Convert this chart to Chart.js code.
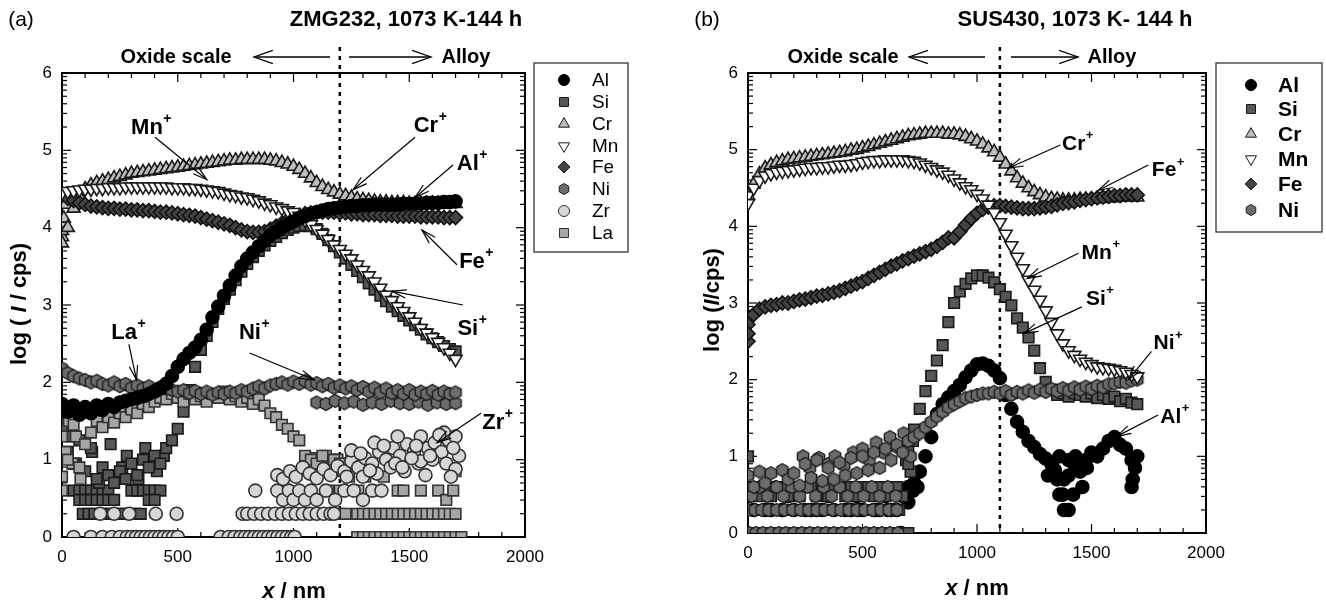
<!DOCTYPE html>
<html>
<head>
<meta charset="utf-8">
<script src="https://cdn.jsdelivr.net/npm/chart.js@4/dist/chart.umd.min.js"></script>
<style>
html, body { margin: 0; padding: 0; background: #fff; }
#wrap { position: relative; width: 1326px; height: 605px; overflow: hidden; }
canvas { position: absolute; top: 0; }
#cA { left: 0; }
#cB { left: 663px; }
</style>
</head>
<body>
<div id="wrap">
  <canvas id="cA" width="663" height="605"></canvas>
  <canvas id="cB" width="663" height="605"></canvas>
</div>
<script>
const FONT = '"Liberation Sans", Arial, Helvetica, sans-serif';

// axis ticks
const xTicks = [0, 500, 1000, 1500, 2000];
const yTicks = [0, 1, 2, 3, 4, 5, 6];

// sputter depth grid for the smooth profiles (nm)
const depth = [0,25,50,75,100,125,150,175,200,225,
  250,275,300,325,350,375,400,425,450,475,
  500,525,550,575,600,625,650,675,700,725,
  750,775,800,825,850,875,900,925,950,975,
  1000,1025,1050,1075,1100,1125,1150,1175,1200,1225,
  1250,1275,1300,1325,1350,1375,1400,1425,1450,1475,
  1500,1525,1550,1575,1600,1625,1650,1675,1700];

// ---------- (a) ZMG232 : log(I/cps) ----------
const alA = [1.72,1.62,1.7,1.58,1.68,1.6,1.7,1.64,1.72,1.68,
  1.74,1.76,1.78,1.8,1.82,1.85,1.88,1.92,1.98,2.08,
  2.2,2.3,2.38,2.45,2.55,2.68,2.84,2.98,3.12,3.25,
  3.38,3.5,3.6,3.68,3.76,3.83,3.9,3.95,4.0,4.04,
  4.08,4.12,4.15,4.18,4.2,4.22,4.24,4.25,4.26,4.27,
  4.28,4.28,4.29,4.29,4.3,4.3,4.3,4.3,4.3,4.31,
  4.31,4.31,4.31,4.32,4.32,4.32,4.33,4.33,4.34];
const siA = [1.4,1.1,0.95,1.25,0.85,1.15,0.75,0.9,0.8,0.7,
  0.85,0.75,0.95,0.8,1.0,0.9,1.05,0.95,1.15,1.25,
  1.4,1.62,1.9,2.2,2.42,2.6,2.78,2.95,3.08,3.2,
  3.32,3.43,3.53,3.62,3.7,3.77,3.83,3.88,3.93,3.97,
  4.0,4.02,4.03,4.02,3.98,3.92,3.84,3.76,3.68,3.6,
  3.52,3.44,3.36,3.28,3.2,3.12,3.05,2.98,2.92,2.86,
  2.8,2.74,2.68,2.62,2.57,2.52,2.47,2.43,2.4];
const crA = [3.8,4.0,4.25,4.4,4.5,4.55,4.58,4.6,4.62,4.64,
  4.66,4.68,4.7,4.71,4.72,4.73,4.74,4.75,4.76,4.77,
  4.78,4.79,4.8,4.81,4.82,4.83,4.84,4.85,4.86,4.87,
  4.87,4.88,4.88,4.88,4.88,4.88,4.87,4.86,4.84,4.82,
  4.79,4.75,4.7,4.64,4.58,4.53,4.49,4.46,4.43,4.41,
  4.39,4.37,4.36,4.35,4.34,4.33,4.33,4.32,4.32,4.32,
  4.31,4.31,4.31,4.31,4.31,4.31,4.31,4.31,4.31];
const mnA = [4.45,4.47,4.48,4.49,4.5,4.5,4.51,4.51,4.52,4.52,
  4.52,4.53,4.53,4.53,4.53,4.53,4.53,4.53,4.53,4.52,
  4.52,4.52,4.51,4.51,4.5,4.49,4.48,4.47,4.45,4.43,
  4.42,4.4,4.39,4.37,4.35,4.32,4.3,4.27,4.25,4.22,
  4.2,4.15,4.1,4.04,3.98,3.92,3.85,3.78,3.72,3.66,
  3.6,3.52,3.45,3.38,3.3,3.22,3.13,3.06,2.98,2.92,
  2.85,2.78,2.7,2.64,2.58,2.52,2.45,2.38,2.3];
const feA = [4.42,4.38,4.35,4.32,4.3,4.28,4.27,4.26,4.25,4.25,
  4.24,4.24,4.23,4.23,4.22,4.22,4.21,4.2,4.2,4.19,
  4.18,4.17,4.16,4.15,4.13,4.11,4.09,4.07,4.05,4.03,
  4.0,3.97,3.95,3.94,3.94,3.95,3.98,4.02,4.06,4.1,
  4.13,4.16,4.18,4.19,4.2,4.2,4.2,4.2,4.19,4.19,
  4.18,4.18,4.17,4.17,4.17,4.16,4.16,4.16,4.15,4.15,
  4.15,4.15,4.14,4.14,4.14,4.14,4.13,4.13,4.13];
const niA = [2.18,2.12,2.08,2.05,2.03,2.0,2.02,1.98,1.96,2.0,
  1.95,1.98,1.93,1.96,1.92,1.95,1.9,1.94,1.92,1.9,
  1.88,1.9,1.86,1.89,1.85,1.88,1.84,1.87,1.85,1.88,
  1.86,1.9,1.88,1.92,1.95,1.92,1.96,1.98,2.0,1.97,
  2.01,1.98,2.02,1.97,1.99,1.95,1.98,1.93,1.96,1.92,
  1.95,1.9,1.94,1.88,1.93,1.87,1.92,1.86,1.9,1.85,
  1.9,1.84,1.88,1.85,1.89,1.84,1.88,1.85,1.87];
const laA = [1.3,1.0,1.45,0.9,1.2,1.35,1.5,1.42,1.55,1.48,
  1.6,1.55,1.65,1.6,1.72,1.68,1.75,1.8,1.78,1.85,
  1.8,1.75,1.85,1.78,1.82,1.75,1.85,1.8,1.88,1.78,
  1.82,1.75,1.8,1.72,1.78,1.7,1.6,1.55,1.45,1.4,
  1.3,1.25,1.05,1.0,0.95,1.05,0.9,1.0,0.95,0.9,
  1.0,0.3,0.3,0.3,0.3,0.3,0.3,0.3,0.3,0.3,
  0.3,0.3,0.3,0.3,0.3,0.3,0.3,0.3,0.3];

// scattered / low-count points of (a)
const crStartX = [0, 0, 0, 8, 14];
const crStartY = [3.88, 3.96, 4.06, 4.12, 4.3];
const siLowX = [50,75,100,125,150,175,200,300,325,350,375,400,425,
  75,100,125,150,175,200,225,375,400,
  90,115,140,165,190,215,240,265,290,315,340,
  280,300,320,340,360,380,400,420,440,790,810,830,850,870,
  10,40,60,130,160,210,260,280,330,360,410,440];
const siLowY = [0.6,0.6,0.6,0.6,0.6,0.6,0.6,0.6,0.6,0.6,0.6,0.6,0.6,
  0.48,0.48,0.48,0.48,0.48,0.48,0.48,0.48,0.48,
  0.3,0.3,0.3,0.3,0.3,0.3,0.3,0.3,0.3,0.3,0.3,
  0,0,0,0,0,0,0,0,0,0,0,0,0,0,
  1.45,1.3,0.95,1.1,0.7,1.2,0.9,1.05,0.75,1.15,0.85,1.05];
const niLowX = [1100,1140,1180,1220,1260,1300,1340,1380,1420,1460,1500,1540,1580,1620,1660,1700];
const niLowY = [1.74,1.72,1.76,1.73,1.75,1.71,1.74,1.72,1.76,1.73,1.72,1.75,1.71,1.74,1.72,1.73];
const laLowX = [0,0,15,30,45,60,80,
  1060,1090,1115,1140,1165,1190,1215,1240,
  1150,1200,1240,1280,1310,1350,1390,1450,1475,1550,1625,1660,1690,1700,
  1275,1300,1325,1350,1375,1400,1425,1450,1475,1500,1525,1550,1575,1600,1625,1650,1675,1700,1725,
  1200,1225];
const laLowY = [0.6,0.78,1.1,1.5,0.95,1.3,0.75,
  0.88,1.02,0.92,1.05,0.88,1.0,0.85,0.95,
  0.6,0.6,0.78,0.6,0.78,0.6,0.78,0.6,0.6,0.6,0.6,0.48,0.6,0.85,
  0,0,0,0,0,0,0,0,0,0,0,0,0,0,0,0,0,0,0,
  0.3,0.3];
const zrX = [50,125,175,215,250,280,300,320,340,360,380,400,420,440,460,480,500,685,720,745,770,790,810,830,850,870,890,910,930,950,970,990,1005,
  165,225,290,405,495,780,800,830,860,890,920,950,980,1010,1040,1070,1100,1130,1160,1175,
  835,930,955,980,1000,1025,1050,1075,1100,1140,1180,1220,1260,1300,1340,1380,
  930,955,985,1010,1040,1070,1100,1130,1160,1190,1220,1250,1280,1310,1340,1370,1400,1430,1460,1490,
  1520,1550,1580,1610,1640,1670,1700,1715,1300,1360,1420,1480,1540,1600,1660,1700,1250,1350,1450,1550,1650,
  1230,1290,1330,1390,1440,1510,1570,1630,1690,1470,1530,1590,1680];
const zrY = [0,0,0,0,0,0,0,0,0,0,0,0,0,0,0,0,0,0,0,0,0,0,0,0,0,0,0,0,0,0,0,0,0,
  0.3,0.3,0.3,0.3,0.3,0.3,0.3,0.3,0.3,0.3,0.3,0.3,0.3,0.3,0.3,0.3,0.3,0.3,0.3,0.3,
  0.6,0.6,0.48,0.6,0.48,0.6,0.48,0.6,0.48,0.6,0.48,0.6,0.6,0.48,0.6,0.6,
  0.8,0.75,0.85,0.78,0.9,0.82,0.76,0.88,0.8,0.92,0.85,0.98,0.9,1.02,0.95,1.1,1.0,1.15,1.05,1.2,
  1.1,1.3,1.15,1.22,1.1,1.25,1.3,1.05,0.78,0.82,0.9,0.85,0.95,1.0,0.95,0.88,1.12,1.22,1.3,0.98,1.35,
  0.78,1.08,0.86,1.18,0.95,1.02,0.8,1.32,1.15,0.9,1.18,1.05,0.78];

// ---------- (b) SUS430 : log(I/cps) ----------
const alB = [0.48,0.3,null,0.3,0.3,null,0.3,0.48,0.3,null,
  0.3,0.3,null,0.3,0.48,0.3,null,0.3,0.3,0.48,
  0.3,null,0.3,0.3,0.48,0.3,0.3,0.48,0.6,0.65,
  0.8,1.0,1.25,1.55,1.68,1.77,1.85,1.93,2.03,2.12,
  2.2,2.21,2.18,2.12,2.02,1.8,1.62,1.45,1.32,1.2,
  1.12,1.03,0.97,0.9,0.7,0.5,0.75,0.9,0.8,0.95,
  1.05,1.0,1.1,1.2,1.25,1.15,1.1,0.95,1.0];
const siB = [1.0,0.6,0.48,0.6,0.48,0.6,0.6,0.48,0.6,0.48,
  0.6,0.6,0.48,0.6,0.48,0.6,0.6,0.48,0.6,0.48,
  0.6,0.6,0.48,0.6,0.48,0.6,0.6,0.48,0.9,1.35,
  1.62,1.85,2.05,2.25,2.45,2.75,3.0,3.15,3.25,3.32,
  3.36,3.36,3.33,3.27,3.18,3.08,2.97,2.8,2.68,2.55,
  2.38,2.15,1.97,1.87,1.8,1.82,1.78,1.82,1.8,1.78,
  1.82,1.76,1.8,1.75,1.78,1.72,1.75,1.7,1.68];
const crB = [4.4,4.55,4.68,4.76,4.8,4.83,4.85,4.87,4.88,4.89,
  4.9,4.91,4.92,4.93,4.94,4.95,4.96,4.97,4.99,5.0,
  5.02,5.04,5.06,5.08,5.1,5.12,5.14,5.16,5.18,5.19,
  5.2,5.21,5.21,5.21,5.21,5.2,5.2,5.19,5.17,5.14,
  5.11,5.07,5.02,4.97,4.9,4.81,4.72,4.63,4.56,4.5,
  4.45,4.41,4.38,4.36,4.35,4.34,4.34,4.34,4.35,4.35,
  4.35,4.36,4.36,4.37,4.37,4.38,4.38,4.38,4.38];
const mnB = [4.3,4.5,4.6,4.66,4.69,4.71,4.72,4.73,4.74,4.75,
  4.76,4.77,4.77,4.78,4.78,4.79,4.8,4.8,4.81,4.82,
  4.84,4.85,4.86,4.86,4.87,4.87,4.87,4.87,4.86,4.85,
  4.83,4.8,4.77,4.74,4.71,4.67,4.62,4.57,4.52,4.48,
  4.42,4.36,4.28,4.18,4.05,3.9,3.75,3.6,3.45,3.3,
  3.17,3.04,2.9,2.75,2.6,2.47,2.38,2.32,2.27,2.23,
  2.2,2.17,2.16,2.15,2.14,2.12,2.1,2.07,2.04];
const feB = [2.6,2.85,2.92,2.95,2.97,2.98,3.0,3.0,3.02,3.04,
  3.05,3.07,3.09,3.1,3.12,3.14,3.16,3.19,3.22,3.25,
  3.28,3.32,3.36,3.4,3.44,3.48,3.51,3.55,3.58,3.61,
  3.64,3.67,3.7,3.74,3.79,3.85,3.85,3.93,4.02,4.1,
  4.17,4.22,4.25,4.27,4.27,4.26,4.25,4.24,4.23,4.23,
  4.23,4.24,4.25,4.26,4.28,4.3,4.31,4.32,4.34,4.35,
  4.36,4.37,4.38,4.39,4.4,4.4,4.41,4.41,4.41];
const niB = [0.75,0.6,0.8,0.65,0.78,0.6,0.82,0.7,0.78,0.62,
  0.9,0.72,0.95,0.68,0.85,0.7,0.92,0.75,0.98,0.78,
  1.0,0.82,1.05,0.85,1.1,0.95,1.15,1.05,1.2,1.25,
  1.3,1.38,1.45,1.52,1.58,1.64,1.68,1.72,1.76,1.78,
  1.8,1.82,1.82,1.84,1.82,1.85,1.8,1.84,1.82,1.86,
  1.83,1.87,1.84,1.88,1.85,1.89,1.86,1.9,1.87,1.91,
  1.88,1.92,1.9,1.94,1.95,1.97,1.96,1.99,2.0];

// scattered / low-count points of (b)
const alLowX = [1310,1340,1360,1380,1400,1420,1440,1360,1400,1430,1380,1460,1480,1675,1680,1690,700,720,740,0,150,300,480,560,610,668];
const alLowY = [0.75,0.82,0.5,0.3,0.3,0.5,0.82,1.0,0.95,1.0,0.7,0.6,0.85,0.6,0.7,0.85,0.4,0.55,0.6,0.48,0.3,0.3,0.3,0.3,0.3,0];
const siLowBX = [0,20,45,70,95,120,145,170,195,220,245,270,295,320,345,370,395,420,445,470,495,520,545,570,595,620,645,670,700,
  10,60,110,160,210,260,310,360,410,460,510,560,610,660,
  690,700,710,720];
const siLowBY = [0,0,0,0,0,0,0,0,0,0,0,0,0,0,0,0,0,0,0,0,0,0,0,0,0,0,0,0,0,
  0.3,0.3,0.3,0.3,0.3,0.3,0.3,0.3,0.3,0.3,0.3,0.3,0.3,0.3,
  0.95,1.1,0.8,1.2];
const niLowBX = [5,35,65,100,135,165,200,235,270,305,340,375,410,445,480,515,550,585,620,655,
  0,30,60,90,125,160,195,230,265,300,335,370,405,440,475,510,545,580,615,650,
  15,50,85,120,155,190,225,260,295,330,365,400,435,470,505,540,575,610,645,
  240,270,310,350,380,420,460,500,530,560,590,620,650,680,710];
const niLowBY = [0,0,0,0,0,0,0,0,0,0,0,0,0,0,0,0,0,0,0,0,
  0.3,0.3,0.3,0.3,0.3,0.3,0.3,0.3,0.3,0.3,0.3,0.3,0.3,0.3,0.3,0.3,0.3,0.3,0.3,0.3,
  0.48,0.6,0.48,0.6,0.48,0.6,0.48,0.6,0.48,0.6,0.48,0.6,0.48,0.6,0.48,0.6,0.48,0.6,0.48,
  1.0,0.85,0.98,0.9,1.0,0.88,1.05,1.1,0.95,1.18,1.05,1.25,1.12,1.3,1.0];
const feStartX = [0, 0];
const feStartY = [2.5, 2.72];
const mnStartX = [0];
const mnStartY = [4.4];

// ---------- marker styles ----------
function hexImage(d, fill, stroke, lw) {
  const c = document.createElement('canvas');
  c.width = c.height = d + 3;
  const g = c.getContext('2d');
  const r = d / 2, m = (d + 3) / 2;
  g.beginPath();
  for (let k = 0; k < 6; k++) {
    const a = -Math.PI / 2 + k * Math.PI / 3;
    const px = m + r * Math.cos(a), py = m + r * Math.sin(a);
    if (k === 0) g.moveTo(px, py); else g.lineTo(px, py);
  }
  g.closePath();
  g.fillStyle = fill; g.fill();
  g.strokeStyle = stroke; g.lineWidth = lw; g.stroke();
  return c;
}

const ST = {
  Al: { shape: 'circle', r: 6.5, bg: '#000000', line: '#000000' },
  Si: { shape: 'rect', r: 7.5, bg: '#575757', line: '#1a1a1a' },
  Cr: { shape: 'triangle', r: 7.5, bg: '#bdbdbd', line: '#1a1a1a' },
  Mn: { shape: 'triangle', r: 7.5, rot: 180, bg: '#ffffff', line: '#1a1a1a' },
  Fe: { shape: 'rectRot', r: 7, bg: '#444444', line: '#111111' },
  Ni: { shape: hexImage(13, '#6c6c6c', '#1e1e1e', 1.4), r: 6, bg: '#6c6c6c', line: '#1e1e1e' },
  Zr: { shape: 'circle', r: 6.5, bg: '#d6d6d6', line: '#333333' },
  La: { shape: 'rect', r: 7.5, bg: '#a6a6a6', line: '#333333' }
};
const legendHex = hexImage(11, '#6c6c6c', '#1e1e1e', 1);

function pts(xs, ys) {
  const out = [];
  for (let i = 0; i < xs.length; i++) {
    if (ys[i] !== null && ys[i] !== undefined) out.push({ x: xs[i], y: ys[i] });
  }
  return out;
}

// ---------- drawing helpers ----------
function line(ctx, x1, y1, x2, y2) {
  ctx.beginPath(); ctx.moveTo(x1, y1); ctx.lineTo(x2, y2); ctx.stroke();
}
function arrow(ctx, x1, y1, x2, y2, len, spread) {
  line(ctx, x1, y1, x2, y2);
  const ang = Math.atan2(y2 - y1, x2 - x1);
  ctx.beginPath();
  ctx.moveTo(x2 - len * Math.cos(ang - spread), y2 - len * Math.sin(ang - spread));
  ctx.lineTo(x2, y2);
  ctx.lineTo(x2 - len * Math.cos(ang + spread), y2 - len * Math.sin(ang + spread));
  ctx.stroke();
}
function supLabel(ctx, txt, cx, cy, size) {
  ctx.font = 'bold ' + size + 'px ' + FONT;
  const w = ctx.measureText(txt).width;
  ctx.textAlign = 'left'; ctx.textBaseline = 'middle';
  ctx.fillText(txt, cx - w / 2, cy);
  ctx.font = 'bold ' + Math.round(size * 0.62) + 'px ' + FONT;
  ctx.fillText('+', cx + w / 2 + 0.5, cy - size * 0.4);
}
function rich(ctx, parts, cx, cy, rotate) {
  let total = 0;
  const ws = parts.map(p => { ctx.font = p[1]; const w = ctx.measureText(p[0]).width; total += w; return w; });
  ctx.save();
  ctx.translate(cx, cy);
  if (rotate) ctx.rotate(-Math.PI / 2);
  ctx.textAlign = 'left'; ctx.textBaseline = 'middle';
  let x = -total / 2;
  parts.forEach((p, i) => { ctx.font = p[1]; ctx.fillText(p[0], x, 0); x += ws[i]; });
  ctx.restore();
}
function marker(ctx, nm, x, y) {
  const st = ST[nm];
  ctx.save();
  ctx.fillStyle = st.bg; ctx.strokeStyle = st.line; ctx.lineWidth = 1;
  if (nm === 'Ni') {
    ctx.drawImage(legendHex, x - legendHex.width / 2, y - legendHex.height / 2);
  } else if (Chart.helpers && Chart.helpers.drawPoint) {
    Chart.helpers.drawPoint(ctx, { pointStyle: st.shape, radius: st.r * 0.85, rotation: st.rot || 0, borderWidth: 1 }, x, y);
  } else {
    ctx.beginPath(); ctx.arc(x, y, st.r * 0.85, 0, Math.PI * 2); ctx.fill(); ctx.stroke();
  }
  ctx.restore();
}

function panelPlugin(cfg) {
  return {
    id: 'panel' + cfg.id,
    beforeDatasetsDraw(chart) {
      const { ctx, chartArea: a, scales: { x, y } } = chart;
      ctx.save();
      ctx.strokeStyle = '#000';
      // boundary oxide / alloy
      ctx.lineWidth = 2.5;
      ctx.setLineDash([4, 5]);
      const bx = x.getPixelForValue(cfg.boundary);
      line(ctx, bx, 47, bx, a.bottom);
      ctx.setLineDash([]);
      // inward ticks on all four sides
      ctx.lineWidth = 1.2;
      for (let v = 0; v <= 2000; v += 100) {
        const px = x.getPixelForValue(v);
        const len = v % 500 === 0 ? 9 : 5;
        line(ctx, px, a.bottom, px, a.bottom - len);
        line(ctx, px, a.top, px, a.top + len);
      }
      for (let n = 0; n <= 6; n++) {
        for (let k = 1; k <= 9; k++) {
          if (n === 6 && k > 1) break;
          const py = y.getPixelForValue(n + Math.log10(k));
          const len = k === 1 ? 9 : 5;
          line(ctx, a.left, py, a.left + len, py);
          line(ctx, a.right, py, a.right - len, py);
        }
      }
      ctx.lineWidth = 2;
      ctx.strokeRect(a.left, a.top, a.right - a.left, a.bottom - a.top);
      ctx.restore();
    },
    afterDraw(chart) {
      const { ctx, scales: { x, y } } = chart;
      const o = cfg.offset;
      ctx.save();
      ctx.fillStyle = '#000'; ctx.strokeStyle = '#000';
      ctx.textBaseline = 'middle'; ctx.textAlign = 'center';
      // panel tag and title
      ctx.font = '21px ' + FONT;
      ctx.fillText(cfg.tag, cfg.tagX - o, 20);
      ctx.font = 'bold 22px ' + FONT;
      ctx.fillText(cfg.title, cfg.titleX - o, 20);
      // oxide scale / alloy header
      ctx.font = 'bold 20px ' + FONT;
      ctx.fillText('Oxide scale', cfg.oxideX - o, 57);
      ctx.fillText('Alloy', cfg.alloyX - o, 57);
      ctx.lineWidth = 1.3;
      arrow(ctx, cfg.arrL[1] - o, 57, cfg.arrL[0] - o, 57, 20, 0.34);
      arrow(ctx, cfg.arrR[0] - o, 57, cfg.arrR[1] - o, 57, 20, 0.34);
      // axis titles
      rich(ctx, cfg.yTitle, cfg.yTitlePos[0] - o, cfg.yTitlePos[1], true);
      rich(ctx, [['x', 'bold italic 22px ' + FONT], [' / nm', 'bold 22px ' + FONT]], cfg.xTitlePos[0] - o, cfg.xTitlePos[1], false);
      // annotations
      ctx.lineWidth = 1.2;
      cfg.notes.forEach(n => {
        supLabel(ctx, n.t, x.getPixelForValue(n.lx), y.getPixelForValue(n.ly), cfg.noteSize);
        arrow(ctx, x.getPixelForValue(n.x1), y.getPixelForValue(n.y1),
          x.getPixelForValue(n.x2), y.getPixelForValue(n.y2), 15, 0.28);
      });
      // legend box
      const L = cfg.legend;
      ctx.lineWidth = 1.3;
      ctx.strokeStyle = '#333';
      ctx.strokeRect(L.box[0] - o, L.box[1], L.box[2] - L.box[0], L.box[3] - L.box[1]);
      ctx.textAlign = 'left';
      ctx.font = L.font;
      cfg.legendNames.forEach((nm, i) => {
        const yy = L.ys[i];
        marker(ctx, nm, L.mx - o, yy);
        ctx.fillStyle = '#000';
        ctx.fillText(nm, L.tx - o, yy + 1);
      });
      ctx.restore();
    }
  };
}

function makePanel(canvasId, cfg) {
  const datasets = cfg.series.map(s => {
    const st = ST[s.name];
    return {
      label: s.name,
      data: pts(s.xs, s.ys),
      pointStyle: st.shape,
      pointRadius: st.r,
      pointRotation: st.rot || 0,
      backgroundColor: st.bg,
      borderColor: st.line,
      borderWidth: 1.6,
      showLine: false,
      order: s.order
    };
  });
  return new Chart(document.getElementById(canvasId), {
    type: 'scatter',
    data: { datasets },
    options: {
      responsive: false,
      animation: false,
      devicePixelRatio: 1,
      events: [],
      layout: { padding: { top: 73, right: cfg.padRight, bottom: 0, left: 0 } },
      plugins: { legend: { display: false }, tooltip: { enabled: false } },
      scales: {
        x: {
          type: 'linear', min: 0, max: 2000,
          grid: { display: false, drawTicks: false },
          border: { display: false },
          afterBuildTicks: sc => { sc.ticks = xTicks.map(v => ({ value: v })); },
          afterFit: sc => { sc.height = cfg.xAxisH; },
          ticks: { padding: 10, color: '#000', maxRotation: 0, autoSkip: false,
            font: { family: FONT, size: 17 }, callback: v => String(v) }
        },
        y: {
          type: 'linear', min: 0, max: 6,
          grid: { display: false, drawTicks: false },
          border: { display: false },
          afterBuildTicks: sc => { sc.ticks = yTicks.map(v => ({ value: v })); },
          afterFit: sc => { sc.width = cfg.yAxisW; },
          ticks: { padding: 10, color: '#000', autoSkip: false,
            font: { family: FONT, size: 17 }, callback: v => String(v) }
        }
      }
    },
    plugins: [panelPlugin(cfg)]
  });
}

makePanel('cA', {
  id: 'A', offset: 0, padRight: 138, xAxisH: 68, yAxisW: 62, boundary: 1200,
  tag: '(a)', tagX: 21, title: 'ZMG232, 1073 K-144 h', titleX: 406,
  oxideX: 176, alloyX: 466, arrL: [254, 330], arrR: [349, 431],
  yTitle: [['log ( ', 'bold 22px ' + FONT], ['I', 'bold italic 22px ' + FONT], [' / cps)', 'bold 22px ' + FONT]],
  yTitlePos: [20, 304], xTitlePos: [294, 592],
  noteSize: 22,
  notes: [
    { t: 'Mn', lx: 367, ly: 5.29, x1: 402, y1: 5.17, x2: 626, y2: 4.62 },
    { t: 'Cr', lx: 1572, ly: 5.32, x1: 1525, y1: 5.17, x2: 1257, y2: 4.49 },
    { t: 'Al', lx: 1753, ly: 4.83, x1: 1689, y1: 4.81, x2: 1525, y2: 4.39 },
    { t: 'Fe', lx: 1771, ly: 3.56, x1: 1706, y1: 3.52, x2: 1555, y2: 3.97 },
    { t: 'Si', lx: 1753, ly: 2.69, x1: 1732, y1: 3.0, x2: 1425, y2: 3.18 },
    { t: 'La', lx: 268, ly: 2.64, x1: 289, y1: 2.49, x2: 322, y2: 2.03 },
    { t: 'Ni', lx: 812, ly: 2.64, x1: 810, y1: 2.38, x2: 1091, y2: 2.03 },
    { t: 'Zr', lx: 1863, ly: 1.48, x1: 1810, y1: 1.6, x2: 1620, y2: 1.22 }
  ],
  legendNames: ['Al', 'Si', 'Cr', 'Mn', 'Fe', 'Ni', 'Zr', 'La'],
  legend: { box: [534, 63, 628, 252], mx: 564, tx: 592, ys: [80, 102, 124, 146, 167, 189, 211, 233], font: '19px ' + FONT },
  series: [
    { name: 'Al', xs: depth, ys: alA, order: 1 },
    { name: 'Ni', xs: depth, ys: niA, order: 2 },
    { name: 'Ni', xs: niLowX, ys: niLowY, order: 2 },
    { name: 'Zr', xs: zrX, ys: zrY, order: 3 },
    { name: 'La', xs: depth, ys: laA, order: 4 },
    { name: 'La', xs: laLowX, ys: laLowY, order: 4 },
    { name: 'Mn', xs: depth, ys: mnA, order: 5 },
    { name: 'Si', xs: depth, ys: siA, order: 6 },
    { name: 'Si', xs: siLowX, ys: siLowY, order: 6 },
    { name: 'Fe', xs: depth, ys: feA, order: 7 },
    { name: 'Cr', xs: depth, ys: crA, order: 8 },
    { name: 'Cr', xs: crStartX, ys: crStartY, order: 8 }
  ]
});

makePanel('cB', {
  id: 'B', offset: 663, padRight: 120, xAxisH: 72, yAxisW: 85, boundary: 1100,
  tag: '(b)', tagX: 707, title: 'SUS430, 1073 K- 144 h', titleX: 1075,
  oxideX: 843, alloyX: 1112, arrL: [909, 985], arrR: [1011, 1078],
  yTitle: [['log (', 'bold 22px ' + FONT], ['I', 'bold italic 22px ' + FONT], ['/cps)', 'bold 22px ' + FONT]],
  yTitlePos: [713, 300], xTitlePos: [977, 589],
  noteSize: 21,
  notes: [
    { t: 'Cr', lx: 1422, ly: 5.07, x1: 1364, y1: 5.06, x2: 1139, y2: 4.76 },
    { t: 'Fe', lx: 1817, ly: 4.73, x1: 1748, y1: 4.8, x2: 1530, y2: 4.47 },
    { t: 'Mn', lx: 1523, ly: 3.65, x1: 1443, y1: 3.65, x2: 1219, y2: 3.32 },
    { t: 'Si', lx: 1519, ly: 3.05, x1: 1458, y1: 2.95, x2: 1204, y2: 2.6 },
    { t: 'Ni', lx: 1817, ly: 2.47, x1: 1762, y1: 2.37, x2: 1661, y2: 2.0 },
    { t: 'Al', lx: 1846, ly: 1.51, x1: 1791, y1: 1.54, x2: 1610, y2: 1.26 }
  ],
  legendNames: ['Al', 'Si', 'Cr', 'Mn', 'Fe', 'Ni'],
  legend: { box: [1216, 63, 1322, 232], mx: 1251, tx: 1278, ys: [85, 109, 134, 159, 184, 210], font: 'bold 21px ' + FONT },
  series: [
    { name: 'Mn', xs: depth, ys: mnB, order: 1 },
    { name: 'Mn', xs: mnStartX, ys: mnStartY, order: 1 },
    { name: 'Ni', xs: depth, ys: niB, order: 2 },
    { name: 'Ni', xs: niLowBX, ys: niLowBY, order: 2 },
    { name: 'Si', xs: depth, ys: siB, order: 3 },
    { name: 'Si', xs: siLowBX, ys: siLowBY, order: 3 },
    { name: 'Al', xs: depth, ys: alB, order: 4 },
    { name: 'Al', xs: alLowX, ys: alLowY, order: 4 },
    { name: 'Fe', xs: depth, ys: feB, order: 5 },
    { name: 'Fe', xs: feStartX, ys: feStartY, order: 5 },
    { name: 'Cr', xs: depth, ys: crB, order: 6 }
  ]
});
</script>
</body>
</html>
